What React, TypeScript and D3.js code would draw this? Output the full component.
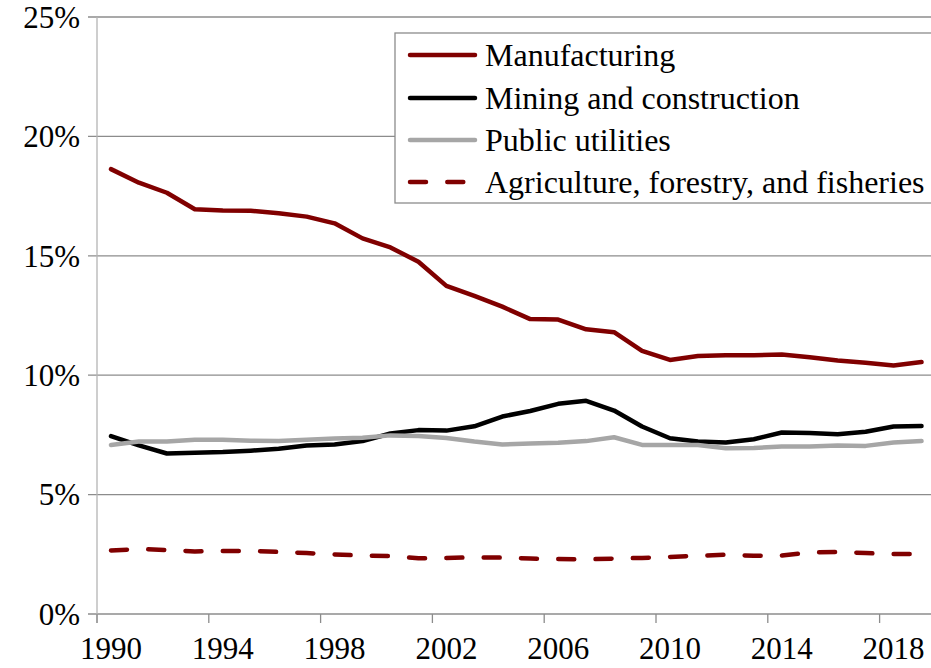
import React from "react";
import * as d3 from "d3";

const years: number[] = d3.range(1990, 2020);
const manufacturing = [18.63, 18.06, 17.64, 16.95, 16.9, 16.89, 16.78, 16.64, 16.36, 15.73, 15.35, 14.75, 13.74, 13.32, 12.87, 12.35, 12.33, 11.92, 11.8, 11.02, 10.64, 10.8, 10.84, 10.84, 10.87, 10.75, 10.62, 10.52, 10.41, 10.55];
const mining = [7.45, 7.06, 6.72, 6.75, 6.78, 6.84, 6.92, 7.06, 7.1, 7.24, 7.56, 7.7, 7.68, 7.86, 8.27, 8.5, 8.8, 8.93, 8.52, 7.85, 7.36, 7.22, 7.18, 7.32, 7.6, 7.58, 7.53, 7.63, 7.85, 7.87];
const utilities = [7.08, 7.22, 7.22, 7.3, 7.3, 7.26, 7.24, 7.3, 7.35, 7.38, 7.48, 7.45, 7.37, 7.22, 7.1, 7.14, 7.17, 7.24, 7.4, 7.08, 7.08, 7.08, 6.94, 6.95, 7.01, 7.01, 7.06, 7.04, 7.18, 7.24];
const agriculture = [2.66, 2.72, 2.68, 2.62, 2.64, 2.64, 2.6, 2.55, 2.49, 2.45, 2.43, 2.33, 2.35, 2.37, 2.36, 2.32, 2.3, 2.29, 2.32, 2.35, 2.39, 2.44, 2.48, 2.44, 2.45, 2.58, 2.6, 2.55, 2.51, 2.51];
const yTicks = [0, 5, 10, 15, 20, 25];
const xLabelYears = [1990, 1994, 1998, 2002, 2006, 2010, 2014, 2018];

const seriesNames = ["Manufacturing", "Mining and construction", "Public utilities", "Agriculture, forestry, and fisheries"];
const seriesColors = ["#800000", "#000000", "#A6A6A6", "#800000"];
const seriesDash = [null, null, null, "16,21.3"];
const seriesData = [manufacturing, mining, utilities, agriculture];

const W = 931;
const H = 668;
const FONT = "'Liberation Serif', 'Times New Roman', serif";

export default function App() {
  const x = d3.scaleBand<number>().domain(years).range([97, 935.5]).paddingInner(0).paddingOuter(0);
  const cx = (yr: number) => (x(yr) as number) + x.bandwidth() / 2;
  const y = d3.scaleLinear().domain([0, 25]).range([614, 17]);
  const line = d3
    .line<number>()
    .x((_, i) => cx(years[i]))
    .y((v) => y(v))
    .curve(d3.curveLinear);

  const legendRows = [55, 98, 140, 182];

  return (
    <svg width={W} height={H} style={{ position: "absolute", left: 0, top: 0, background: "#fff" }} fontFamily={FONT}>
      <rect x={0} y={0} width={W} height={H} fill="#fff" />
      {yTicks.map((t) => (
        <g key={t}>
          <line x1={88} x2={W} y1={y(t)} y2={y(t)} stroke="#8C8C8C" strokeWidth={1.3} />
          <text x={80} y={y(t)} dy="0.35em" textAnchor="end" fontSize={31} fill="#000">
            {t}%
          </text>
        </g>
      ))}
      <line x1={97} x2={97} y1={y(25)} y2={y(0) + 9} stroke="#B4B4B4" strokeWidth={1.3} />
      {xLabelYears.map((yr) => (
        <g key={yr}>
          <line x1={x(yr) as number} x2={x(yr) as number} y1={614} y2={623} stroke="#8C8C8C" strokeWidth={1.3} />
          <text x={cx(yr)} y={659} textAnchor="middle" fontSize={31} fill="#000">
            {yr}
          </text>
        </g>
      ))}
      {seriesData.map((d, i) => (
        <path
          key={i}
          d={line(d) as string}
          fill="none"
          stroke={seriesColors[i]}
          strokeWidth={4.5}
          strokeLinecap="round"
          strokeLinejoin="round"
          strokeDasharray={seriesDash[i] ?? undefined}
        />
      ))}
      <rect x={395} y={33} width={560} height={170} fill="#fff" stroke="#8C8C8C" strokeWidth={1.3} />
      {seriesNames.map((name, i) => (
        <g key={name}>
          <line
            x1={410}
            x2={475}
            y1={legendRows[i]}
            y2={legendRows[i]}
            stroke={seriesColors[i]}
            strokeWidth={4.5}
            strokeLinecap="round"
            strokeDasharray={seriesDash[i] ?? undefined}
          />
          <text x={485} y={legendRows[i]} dy="0.33em" fontSize={32} fill="#000">
            {name}
          </text>
        </g>
      ))}
    </svg>
  );
}
